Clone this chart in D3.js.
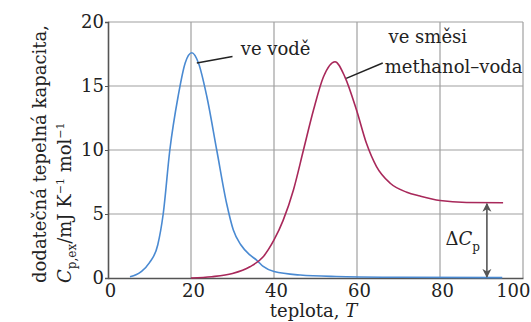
<!DOCTYPE html>
<html>
<head>
<meta charset="utf-8">
<script src="https://cdn.jsdelivr.net/npm/d3@7"></script>
<style>
  html, body { margin: 0; padding: 0; background: #fff; }
  svg, svg text, svg tspan { font-family: 'DejaVu Serif', serif !important; }
</style>
</head>
<body>
<div class="chart"></div>
<script>
// values
let xTicks = [0, 20, 40, 60, 80, 100];
let yTicks = [0, 5, 10, 15, 20];

let waterT  = [5.3, 8, 10, 12, 13.3, 14.9, 16.9, 18.6, 20.2, 21.8, 23.8, 26.2, 28.6, 30.2, 32, 34.2, 35.8, 37.4, 40, 46.3, 55, 70, 95];
let waterCp = [0.1, 0.5, 1.2, 2.6, 5.0, 10, 14.2, 16.8, 17.6, 16.8, 14.2, 10, 5.8, 3.75, 2.6, 1.8, 1.4, 0.9, 0.5, 0.23, 0.12, 0.06, 0.03];

let mixT  = [20, 25, 30, 34.2, 37.4, 40, 42.2, 44.7, 47.1, 49.5, 51.9, 54.7, 57.1, 59.9, 62.3, 64.7, 68, 72, 75.2, 80, 86.4, 95.2];
let mixCp = [0, 0.1, 0.35, 0.88, 1.66, 2.97, 4.5, 6.9, 10, 13.1, 15.7, 16.9, 15.7, 13.1, 10.5, 8.7, 7.4, 6.7, 6.4, 6.05, 5.9, 5.88];

let deltaT = 91.3;
let plateau = 5.88;

let margin = {top: 22, right: 8, bottom: 44, left: 108};
let width = 531 - margin.left - margin.right;
let height = 322 - margin.top - margin.bottom;

let x = d3.scaleLinear().domain([0, 100]).range([0, width]);
let y = d3.scaleLinear().domain([0, 20]).range([height, 0]);

let svg = d3.select('.chart')
  .append('svg')
  .attr('width', 531)
  .attr('height', 322)
  .append('g')
  .attr('transform', 'translate(' + margin.left + ',' + margin.top + ')');

// grid
svg.append('g')
  .selectAll('line')
  .data(xTicks.slice(1))
  .enter().append('line')
  .attr('x1', d => x(d)).attr('x2', d => x(d))
  .attr('y1', 0).attr('y2', height)
  .attr('stroke', '#a0a0a0').attr('stroke-width', 1.2);

svg.append('g')
  .selectAll('line')
  .data(yTicks.slice(1))
  .enter().append('line')
  .attr('x1', 0).attr('x2', width)
  .attr('y1', d => y(d)).attr('y2', d => y(d))
  .attr('stroke', '#a0a0a0').attr('stroke-width', 1.2);

// axes
let xAxis = svg.append('g')
  .attr('transform', 'translate(0,' + height + ')')
  .call(d3.axisBottom(x).tickValues(xTicks).tickSize(0).tickPadding(6));
xAxis.select('.domain').attr('stroke', '#555').attr('stroke-width', 1.6);
xAxis.selectAll('text').style('font-size', '18px').attr('fill', '#222')
  .attr('text-anchor', d => d === 100 ? 'end' : 'middle')
  .attr('dx', d => d === 100 ? 7 : 2);

let yAxis = svg.append('g')
  .call(d3.axisLeft(y).tickValues(yTicks).tickSize(3).tickPadding(1));
yAxis.select('.domain').attr('stroke', '#555').attr('stroke-width', 1.6);
yAxis.selectAll('.tick line').attr('stroke', '#555');
yAxis.selectAll('text').style('font-size', '18px').attr('fill', '#222');

// curves
let line = d3.line()
  .curve(d3.curveMonotoneX)
  .x(d => x(d[0]))
  .y(d => y(d[1]));

let water = waterT.map((t, i) => [t, waterCp[i]]);
let mix = mixT.map((t, i) => [t, mixCp[i]]);

svg.append('path')
  .attr('d', line(water))
  .attr('fill', 'none')
  .attr('stroke', '#4a8ad2')
  .attr('stroke-width', 1.6);

svg.append('path')
  .attr('d', line(mix))
  .attr('fill', 'none')
  .attr('stroke', '#a8285a')
  .attr('stroke-width', 1.6);

// labels with leader lines
svg.append('line')
  .attr('x1', x(21.4)).attr('y1', y(16.8))
  .attr('x2', x(30)).attr('y2', y(17.3))
  .attr('stroke', '#222').attr('stroke-width', 1.5);

svg.append('text')
  .attr('x', x(32)).attr('y', y(17.4))
  .attr('fill', '#222')
  .style('font-size', '18px')
  .text('ve vodě');

svg.append('line')
  .attr('x1', x(57.4)).attr('y1', y(15.6))
  .attr('x2', x(66.2)).attr('y2', y(16.8))
  .attr('stroke', '#222').attr('stroke-width', 1.5);

svg.append('text')
  .attr('x', x(67.6)).attr('y', y(18.35))
  .attr('fill', '#222')
  .style('font-size', '18px')
  .text('ve směsi');

svg.append('text')
  .attr('x', x(66.7)).attr('y', y(15.98))
  .attr('fill', '#222')
  .style('font-size', '18px')
  .text('methanol–voda');

// delta Cp arrow
let defs = svg.append('defs');
defs.append('marker')
  .attr('id', 'head')
  .attr('viewBox', '0 0 10 10')
  .attr('refX', 9).attr('refY', 5)
  .attr('markerWidth', 9).attr('markerHeight', 11)
  .attr('markerUnits', 'userSpaceOnUse')
  .attr('orient', 'auto-start-reverse')
  .append('path')
  .attr('d', 'M0,0 L10,5 L0,10 L3,5 Z')
  .attr('fill', '#555');

svg.append('line')
  .attr('x1', x(deltaT)).attr('y1', y(plateau) + 1)
  .attr('x2', x(deltaT)).attr('y2', y(0) - 1)
  .attr('stroke', '#555').attr('stroke-width', 1.6)
  .attr('marker-start', 'url(#head)')
  .attr('marker-end', 'url(#head)');

let dc = svg.append('text')
  .attr('x', x(81.3)).attr('y', y(2.6))
  .attr('fill', '#222')
  .style('font-size', '18px');
dc.append('tspan').text('Δ');
dc.append('tspan').style('font-style', 'italic').text('C');
dc.append('tspan').attr('dy', 6).style('font-size', '12px').text('p');

// axis titles
let xt = svg.append('text')
  .attr('x', width / 2 - 2).attr('y', height + 39)
  .attr('text-anchor', 'middle')
  .attr('fill', '#222')
  .style('font-size', '18px');
xt.append('tspan').text('teplota, ');
xt.append('tspan').style('font-style', 'italic').text('T');

let yt = svg.append('g')
  .attr('transform', 'translate(' + (-margin.left) + ',0) rotate(-90)');

yt.append('text')
  .attr('x', -261).attr('y', 46)
  .attr('fill', '#222')
  .style('font-size', '18px')
  .text('dodatečná tepelná kapacita,');

let yt2 = yt.append('text')
  .attr('x', -261).attr('y', 71)
  .attr('fill', '#222')
  .style('font-size', '18px');
yt2.append('tspan').style('font-style', 'italic').text('C');
yt2.append('tspan').attr('dy', 5).style('font-size', '12px').text('p,ex');
yt2.append('tspan').attr('dy', -5).text('/mJ K');
yt2.append('tspan').attr('dy', -7).style('font-size', '11px').text('−1');
yt2.append('tspan').attr('dy', 7).text(' mol');
yt2.append('tspan').attr('dy', -7).style('font-size', '11px').text('−1');
</script>
</body>
</html>
